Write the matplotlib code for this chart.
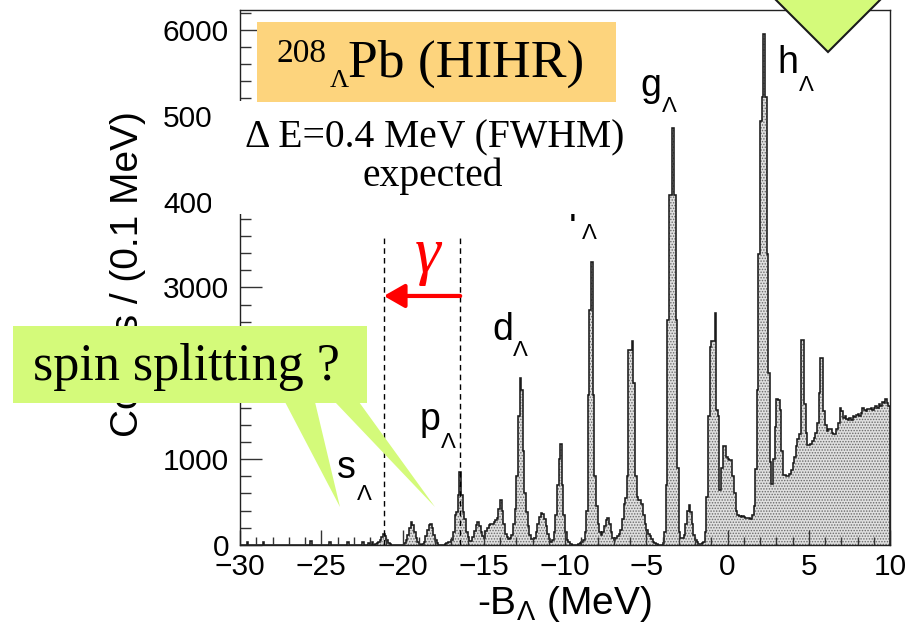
import numpy as np
import matplotlib
matplotlib.use("Agg")
import matplotlib.pyplot as plt
from matplotlib.patches import Polygon, Rectangle
from matplotlib.ticker import MultipleLocator

plt.rcParams.update({
    "font.family": ["Liberation Sans", "DejaVu Sans"],
    "mathtext.fontset": "custom",
    "mathtext.rm": "Liberation Sans",
    "mathtext.it": "Liberation Sans:italic",
    "mathtext.bf": "Liberation Sans:bold",
    "hatch.linewidth": 0.7,
    "axes.unicode_minus": True,
})

W, H, DPI = 919, 622, 100
SERIF = ["Liberation Serif", "DejaVu Serif"]

# ---- 208_Lambda Pb missing-mass spectrum, counts per 0.1 MeV bin ----
# one row per MeV, starting at -30 MeV
E_MIN, E_MAX, BIN = -30.0, 10.0, 0.1
counts_rows = [
    [0, 0, 0, 0, 40, 0, 0, 0, 0, 0],                                  # -30
    [0, 0, 0, 0, 30, 0, 0, 0, 0, 0],                                  # -29
    [0, 0, 0, 0, 0, 0, 0, 0, 0, 0],                                   # -28
    [0, 0, 0, 0, 0, 0, 0, 0, 0, 0],                                   # -27
    [0, 0, 0, 50, 0, 0, 0, 0, 0, 0],                                  # -26
    [0, 0, 0, 0, 0, 40, 0, 0, 0, 0],                                  # -25
    [0, 0, 0, 0, 0, 0, 30, 0, 0, 0],                                  # -24
    [0, 0, 0, 0, 0, 40, 0, 0, 0, 20],                                 # -23
    [0, 30, 0, 10, 20, 30, 60, 90, 125, 100],                         # -22
    [60, 25, 10, 0, 0, 0, 0, 0, 0, 0],                                # -21
    [0, 20, 60, 120, 200, 265, 230, 150, 80, 30],                     # -20
    [10, 5, 10, 40, 100, 170, 230, 250, 200, 120],                    # -19
    [60, 20, 5, 0, 0, 5, 10, 20, 30, 40],                             # -18
    [60, 150, 350, 390, 580, 855, 580, 390, 300, 150],                # -17
    [90, 50, 50, 90, 160, 230, 270, 220, 150, 100],                   # -16
    [80, 160, 200, 230, 250, 240, 270, 290, 320, 420],                # -15
    [525, 400, 250, 130, 90, 70, 80, 120, 250, 420],                  # -14
    [800, 1500, 1950, 1800, 1100, 600, 380, 220, 120, 70],            # -13
    [70, 80, 150, 250, 330, 370, 360, 300, 220, 130],                 # -12
    [70, 40, 60, 150, 350, 700, 1000, 1180, 700, 350],                # -11
    [150, 60, 30, 10, 0, 0, 0, 5, 10, 20],                            # -10
    [30, 60, 150, 400, 1750, 2740, 3290, 1750, 800, 450],             # -9
    [250, 150, 120, 150, 220, 290, 310, 250, 150, 80],                # -8
    [60, 80, 100, 130, 180, 300, 480, 550, 800, 2275],                # -7
    [2275, 2370, 1890, 800, 560, 520, 525, 480, 350, 250],            # -6
    [180, 130, 100, 70, 40, 20, 10, 0, 0, 0],                         # -5
    [20, 150, 700, 2620, 4070, 4070, 4860, 4070, 2620, 900],          # -4
    [150, 80, 80, 120, 250, 400, 470, 380, 250, 120],                 # -3
    [60, 30, 10, 10, 20, 40, 150, 560, 1500, 2300],                   # -2
    [2380, 2380, 2700, 1570, 1500, 645, 900, 1150, 1150, 1030],       # -1
    [1000, 990, 990, 800, 600, 400, 350, 340, 330, 340],              # 0
    [330, 320, 320, 310, 300, 350, 450, 890, 1800, 3385],             # 1
    [4940, 5220, 5950, 5220, 3385, 2000, 970, 705, 1000, 1370],       # 2
    [1700, 1690, 1570, 1090, 810, 810, 806, 806, 830, 870],           # 3
    [950, 1020, 1150, 1230, 1290, 2390, 2390, 1640, 1300, 1165],      # 4
    [1165, 1180, 1210, 1250, 1300, 1415, 1770, 2180, 2180, 1560],     # 5
    [1400, 1330, 1350, 1350, 1310, 1290, 1290, 1350, 1415, 1600],     # 6
    [1560, 1480, 1500, 1470, 1455, 1480, 1460, 1500, 1490, 1510],     # 7
    [1520, 1500, 1540, 1600, 1570, 1560, 1580, 1580, 1600, 1570],     # 8
    [1600, 1620, 1590, 1640, 1620, 1660, 1650, 1705, 1650, 1620],     # 9
]
counts = np.array(counts_rows, dtype=float).ravel()
edges = E_MIN + BIN * np.arange(counts.size + 1)

# Lambda single-particle shells marked on the spectrum
shell_names = ["s", "p", "d", "f", "g", "h"]
# (letter, subscript) anchor points in figure pixels measured from the top-left
shell_letter_px = [(337, 478), (420, 430), (492, 340), (568, 221), (640, 96), (777, 73)]
shell_sub_px = [(357, 500), (441, 448), (513, 356), (582, 239), (662, 112), (799, 91)]

# gamma-ray window between the p and s shells (MeV)
s_level, p_level = -21.15, -16.45
window_top = 3610
arrow_height = 2900


def fig_xy(px, py):
    """Figure-pixel position (origin top-left) -> figure fraction."""
    return px / W, 1.0 - py / H


fig = plt.figure(figsize=(W / DPI, H / DPI), dpi=DPI)
ax = fig.add_axes([240 / W, 1 - 545 / H, 650 / W, 535 / H])
ax.set_xlim(E_MIN, E_MAX)
ax.set_ylim(0, 6230)

# stippled histogram with a dark outline
ax.stairs(counts, edges, fill=True, facecolor="#e0e0e0", edgecolor="#6a6a6a",
          hatch="......", linewidth=0)
ax.stairs(counts, edges, color="#1a1a1a", linewidth=1.15)

for sp in ax.spines.values():
    sp.set_linewidth(1.0)
    sp.set_color("#222222")

ax.xaxis.set_major_locator(MultipleLocator(5))
ax.xaxis.set_minor_locator(MultipleLocator(1))
ax.yaxis.set_major_locator(MultipleLocator(1000))
ax.yaxis.set_minor_locator(MultipleLocator(200))
ax.tick_params(which="both", direction="in", width=1, color="#333333",
               labelcolor="black", labelsize=21.5, top=False, right=False)
ax.tick_params(axis="x", which="major", length=11, pad=6)
ax.tick_params(axis="x", which="minor", length=5.5)
ax.tick_params(axis="y", which="major", length=16, pad=8)
ax.tick_params(axis="y", which="minor", length=8)

# axis titles
fig.text(*fig_xy(128, 274), "Counts / (0.1 MeV)", rotation=90,
         ha="center", va="center", fontsize=28)
fig.text(*fig_xy(564, 614), r"-B$_{\Lambda}$ (MeV)", ha="center",
         va="baseline", fontsize=28)

# shell labels (drawn inside the axes so the caption panel can overlap them)
for name, (lx, ly), (sx, sy) in zip(shell_names, shell_letter_px, shell_sub_px):
    ax.text(*fig_xy(lx, ly), name, transform=fig.transFigure, fontsize=27,
            ha="left", va="baseline")
    ax.text(*fig_xy(sx, sy), "Λ", transform=fig.transFigure, fontsize=16,
            ha="left", va="baseline")

# gamma window: dashed bounds and arrow from p down to s
ax.vlines([s_level, p_level], 0, window_top, colors="black",
          linestyles=(0, (4, 3)), linewidth=1)
ax.annotate("", xy=(s_level, arrow_height), xytext=(p_level, arrow_height),
            arrowprops=dict(arrowstyle="-|>,head_length=0.7,head_width=0.4",
                            color="red", lw=3, mutation_scale=18,
                            shrinkA=0, shrinkB=0))
fig.text(*fig_xy(428, 256), "γ", color="red", family=SERIF, style="italic",
         fontsize=47, ha="center", va="center")

# white caption panel
fig.patches.append(Rectangle(fig_xy(211, 214), 434 / W, 113 / H,
                             transform=fig.transFigure, facecolor="white",
                             edgecolor="none", zorder=1))
fig.text(*fig_xy(435, 147), "Δ E=0.4 MeV (FWHM)", family=SERIF,
         fontsize=28.5, ha="center", va="baseline", zorder=3)
fig.text(*fig_xy(433, 186), "expected", family=SERIF, fontsize=28.5,
         ha="center", va="baseline", zorder=3)

# orange title tag
fig.patches.append(Rectangle(fig_xy(257, 102), 359 / W, 80 / H,
                             transform=fig.transFigure, facecolor="#fdd47d",
                             edgecolor="none", zorder=2))
fig.text(*fig_xy(277, 62), "208", family=SERIF, fontsize=24,
         ha="left", va="baseline", zorder=3)
fig.text(*fig_xy(330, 87), "Λ", family=SERIF, fontsize=19,
         ha="left", va="baseline", zorder=3)
fig.text(*fig_xy(348, 77), "Pb (HIHR)", family=SERIF, fontsize=38.5,
         ha="left", va="baseline", zorder=3)

# green callout
green = "#d4fa7a"
callout = [
    [fig_xy(13, 326), fig_xy(367, 326), fig_xy(367, 403), fig_xy(13, 403)],
    [fig_xy(285, 402), fig_xy(315, 402), fig_xy(340, 507)],
    [fig_xy(335, 402), fig_xy(359, 402), fig_xy(435, 507)],
]
for pts in callout:
    fig.patches.append(Polygon(pts, closed=True, transform=fig.transFigure,
                               facecolor=green, edgecolor="none", zorder=4))
fig.text(*fig_xy(33, 380), "spin splitting ?", family=SERIF, fontsize=37.5,
         ha="left", va="baseline", zorder=5)

# green pointer at the top right
fig.patches.append(Polygon([fig_xy(766, -10), fig_xy(890, -10), fig_xy(828, 52)],
                           closed=True, transform=fig.transFigure,
                           facecolor=green, edgecolor="#1a1a1a", linewidth=1.5,
                           zorder=4))

fig.savefig("out.png", dpi=DPI)
